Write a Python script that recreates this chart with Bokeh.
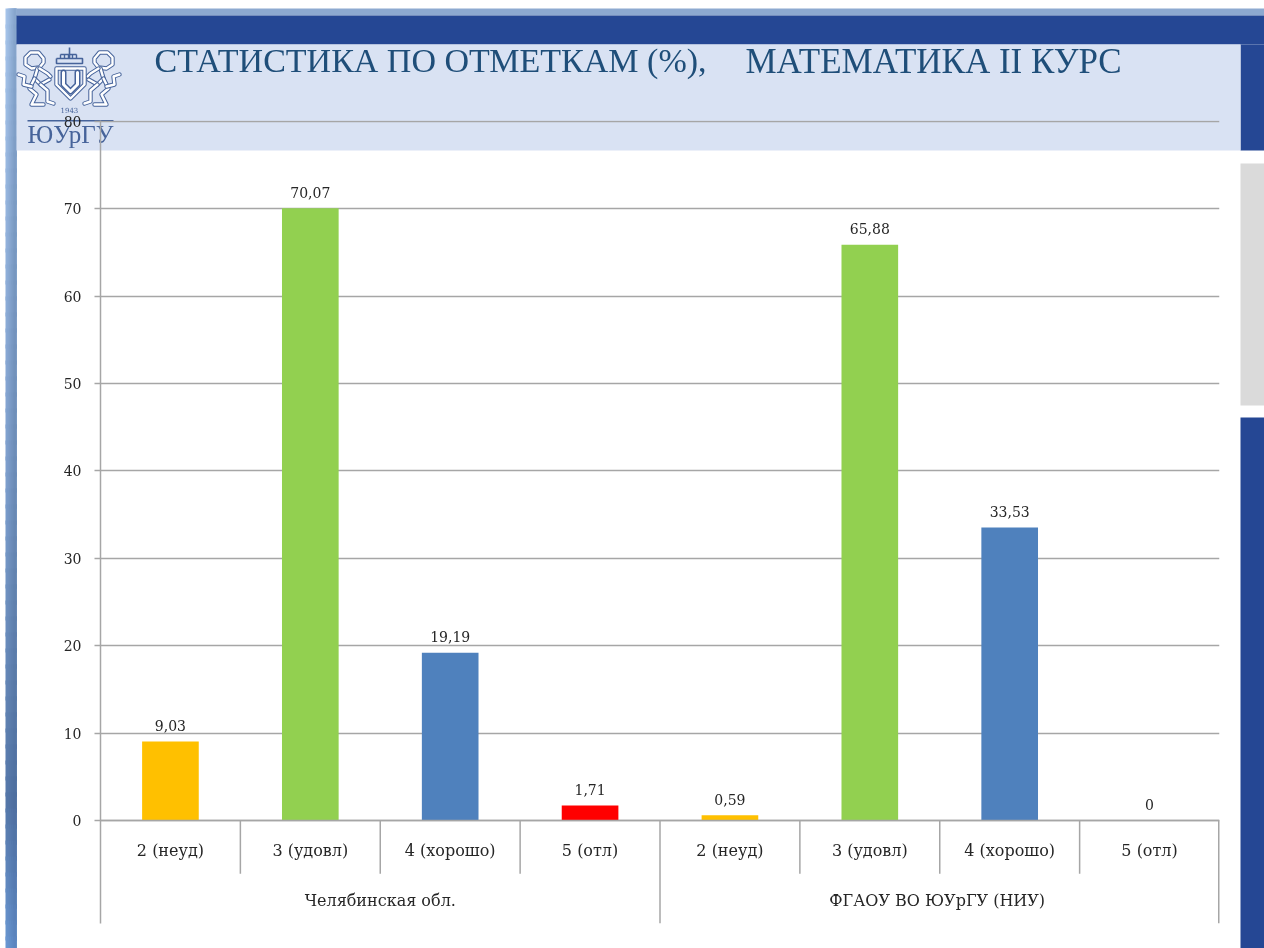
from bokeh.plotting import figure
from bokeh.embed import file_html
from bokeh.resources import INLINE
from bokeh.models import (FactorRange, ColumnDataSource, LinearAxis, CategoricalAxis, FixedTicker, Grid)
from bokeh.core.properties import value

groups = ["Челябинская обл.", "ФГАОУ ВО ЮУрГУ  (НИУ)"]
grades = ["2 (неуд)", "3 (удовл)", "4 (хорошо)", "5 (отл)"]
chel_values = [9.03, 70.07, 19.19, 1.71]
susu_values = [0.59, 65.88, 33.53, 0]
chel_labels = ["9,03", "70,07", "19,19", "1,71"]
susu_labels = ["0,59", "65,88", "33,53", "0"]
grade_colors = ["#FFC000", "#92D050", "#4F81BD", "#FF0000"]
y_ticks = [0, 10, 20, 30, 40, 50, 60, 70, 80]
title_left = "СТАТИСТИКА ПО ОТМЕТКАМ (%),"
title_right = "МАТЕМАТИКА  II КУРС"

SERIF = "DejaVu Serif"
TEXT = "#262626"
GRID = "#A6A6A6"

factors = [(g, c) for g in groups for c in grades]
vals = chel_values + susu_values
labs = chel_labels + susu_labels
cols = grade_colors * 2

# ---- slide background: a figure in page pixels ----
bg = figure(width=1264, height=948, output_backend="svg", toolbar_location=None,
            x_range=(0, 1264), y_range=(948, 0), x_axis_location=None, y_axis_location=None,
            min_border=0)
bg.styles = {"position": "fixed", "left": "0px", "top": "0px"}
bg.grid.visible = False
bg.outline_line_color = None
bg.background_fill_color = "white"
bg.border_fill_color = "white"

def box(l, t, r, b, c):
    bg.quad(left=[l], right=[r], top=[t], bottom=[b], fill_color=c, line_color=None)

def hex2rgb(h):
    return [int(h[i:i + 2], 16) for i in (1, 3, 5)]

def mix(c0, c1, f):
    a, b = hex2rgb(c0), hex2rgb(c1)
    return "#%02x%02x%02x" % tuple(round(a[i] + (b[i] - a[i]) * f) for i in range(3))

# slide's left edge: gradient down and across; each cell overlaps the next so no seam shows
edge_y = [8, 500, 800, 948]
edge_left = ["#A6C4EA", "#7B9CCB", "#5577A8", "#6A97D2"]
edge_right = ["#87A6CD", "#6A8AB5", "#4E6F9F", "#5C86C0"]
edge_cols = [5, 7, 9, 11, 13, 16]
def edge_color(stops, y):
    for k in range(len(edge_y) - 1):
        if y <= edge_y[k + 1]:
            return mix(stops[k], stops[k + 1], (y - edge_y[k]) / (edge_y[k + 1] - edge_y[k]))
    return stops[-1]
for cx in range(5):
    for yy in range(8, 948, 16):
        box(edge_cols[cx], yy, 16, min(yy + 20, 948),
            mix(edge_color(edge_left, yy + 8), edge_color(edge_right, yy + 8), cx / 4))
box(16, 8, 1264, 15, "#8DA9D0")
box(16, 15, 1264, 44, "#254794")
box(1240, 44, 1264, 150, "#254794")
box(16, 44, 1240, 150, "#D9E2F3")
box(1240, 163, 1264, 405, "#DADADA")
box(1240, 417, 1264, 948, "#254794")

def label(x, y, s, size, color, font=SERIF):
    # the baseline of text in this backend sits about 0.39 of the size below y
    bg.text(x=[x], y=[y - 0.39 * size], text=[s], text_font=value(font), text_font_size=f"{size}px", text_color=color,
            text_align="left", text_baseline="alphabetic")

label(154, 73, title_left, 34, "#1F4E79", font="Liberation Serif")
label(745, 75, title_right, 35, "#1F4E79", font="Liberation Serif")

# logo
LOGO = "#46639A"
def band(xs, ys, outer=4.4, inner=2.4):
    bg.line(x=xs, y=ys, line_color=LOGO, line_width=outer, line_join="round", line_cap="round")
    bg.line(x=xs, y=ys, line_color="white", line_width=inner, line_join="round", line_cap="round")

lion_parts = [
    ([94, 99, 107, 112, 112, 106, 98, 94, 94], [58, 52, 52, 57, 64, 68, 67, 62, 58]),
    ([100, 103, 97, 88], [68, 78, 84, 79]),
    ([98, 90, 87], [68, 73, 76]),
    ([103, 108, 101, 106, 94], [78, 88, 94, 104, 104]),
    ([97, 90, 90, 84], [84, 90, 101, 103]),
    ([106, 114, 113, 119], [86, 84, 76, 74]),
]
for xs, ys in lion_parts:
    band(xs, ys)
    band([137 - x for x in xs], ys)
band([56, 84, 84, 70, 56, 56], [68, 68, 84, 98, 84, 68])
band([63, 63, 70, 77, 77], [72, 84, 91, 84, 72], outer=6, inner=3)
bg.line(x=[69, 69], y=[47, 58], line_color=LOGO, line_width=1.6)
bg.line(x=[56, 82, 82, 56, 56], y=[58, 58, 63, 63, 58], line_color=LOGO, line_width=1.6)
bg.multi_line(xs=[[60, 60], [64, 64], [68, 68], [72, 72], [76, 76]], ys=[[54, 58]] * 5, line_color=LOGO, line_width=1.4)
bg.line(x=[60, 76], y=[54, 54], line_color=LOGO, line_width=1.4)
label(60, 112, "1943", 7, LOGO)
box(27, 119.5, 113, 121, LOGO)
label(27, 144, "ЮУрГУ", 25, LOGO, font="Liberation Serif")

# ---- chart, on top of the slide ----
p = figure(width=1264, height=948, output_backend="svg", toolbar_location=None,
           x_range=FactorRange(factors=factors, range_padding=0, group_padding=0, factor_padding=0, subgroup_padding=0),
           y_range=(-11.79, 80.11),
           x_axis_location=None, y_axis_location=None,
           min_border_left=100, min_border_right=45, min_border_top=120, min_border_bottom=25)
p.styles = {"position": "fixed", "left": "0px", "top": "0px"}
p.background_fill_color = None
p.border_fill_color = None
p.outline_line_color = None
p.xgrid.visible = False
p.ygrid.visible = False
p.extra_x_ranges["region"] = FactorRange(factors=groups, range_padding=0, factor_padding=0)

src = ColumnDataSource(dict(x=factors, v=vals, l=labs, c=cols))
p.vbar(x="x", top="v", width=0.405, fill_color="c", line_color=None, source=src, level="glyph")
p.text(x="x", y="v", text="l", source=src, text_align="center", text_baseline="alphabetic", y_offset=-16,
       text_font=value(SERIF), text_font_size="14px", text_color=TEXT)

yax = LinearAxis(ticker=FixedTicker(ticks=y_ticks), major_tick_out=6, major_tick_in=0, minor_tick_line_color=None,
                 major_tick_line_color=GRID, major_tick_line_width=1.5, axis_line_color=GRID, axis_line_width=1.5,
                 major_label_standoff=13, major_label_text_font=SERIF, major_label_text_font_size="14px",
                 major_label_text_color=TEXT)
p.add_layout(yax, "left")
p.add_layout(Grid(dimension=1, ticker=yax.ticker, grid_line_color=GRID, grid_line_width=1.5, level="underlay"))

xax = CategoricalAxis(fixed_location=0, axis_line_color=GRID, axis_line_width=1.5, major_tick_line_color=None,
                      minor_tick_line_color=None, major_label_text_font=SERIF, major_label_text_font_size="16px",
                      major_label_text_color=TEXT, group_text_color=None, major_label_standoff=15,
                      separator_line_color=None)
p.add_layout(xax, "below")
gax = CategoricalAxis(x_range_name="region", fixed_location=0, axis_line_color=None, major_tick_line_color=None,
                      minor_tick_line_color=None, major_label_text_font=SERIF, major_label_text_font_size="16px",
                      major_label_text_color=TEXT, major_label_standoff=65)
p.add_layout(gax, "below")

sep_x, sep_y0, sep_y1, sep_w = [], [], [], []
for g in groups:
    for c in grades[1:]:
        sep_x.append((g, c, -0.5)); sep_y0.append(0); sep_y1.append(-6.1); sep_w.append(1.5)
sep_x.append((groups[1], grades[0], -0.5)); sep_y0.append(0); sep_y1.append(-11.79); sep_w.append(1.5)
sep_x.append((groups[1], grades[3], 0.5)); sep_y0.append(0); sep_y1.append(-11.79); sep_w.append(3)
p.segment(x0=sep_x, x1=sep_x, y0=sep_y0, y1=sep_y1, line_color=GRID, line_width=sep_w)

open("out.html", "w").write(file_html([bg, p], INLINE))
